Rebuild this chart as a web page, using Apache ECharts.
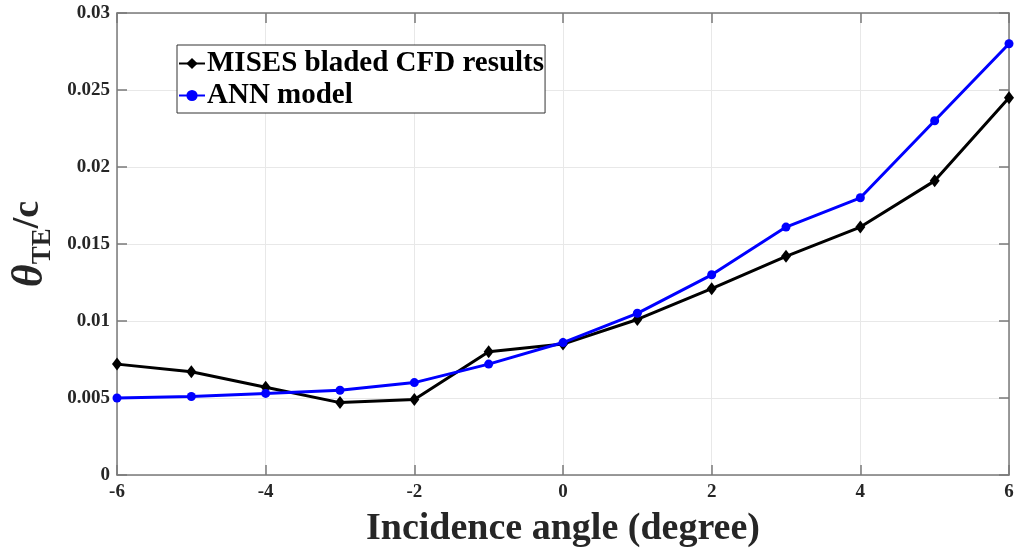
<!DOCTYPE html>
<html><head><meta charset="utf-8">
<script src="https://cdn.jsdelivr.net/npm/echarts@6/dist/echarts.min.js"></script>
<style>html,body{margin:0;padding:0;background:#fff}#c{width:1018px;height:552px}</style>
</head><body><div id="c"></div>
<script>
var angles = [-6,-5,-4,-3,-2,-1,0,1,2,3,4,5,6];
var misesValues = [0.0072,0.0067,0.0057,0.0047,0.0049,0.0080,0.0085,0.0101,0.0121,0.0142,0.0161,0.0191,0.0245];
var annValues = [0.0050,0.0051,0.0053,0.0055,0.0060,0.0072,0.0086,0.0105,0.0130,0.0161,0.0180,0.0230,0.0280];
var yTickLabels = ['0','0.005','0.01','0.015','0.02','0.025','0.03'];
var seriesNames = ['MISES bladed CFD results','ANN model'];

var FONT = "'Liberation Serif','Times New Roman',serif";
function pairs(v){ return angles.map(function(a,i){return [a,v[i]];}); }
var axisCol = '#7a7a7a';
var chart = echarts.init(document.getElementById('c'));
chart.setOption({
  animation:false,
  backgroundColor:'#fff',
  grid:{left:117,right:9,top:13,bottom:77,containLabel:false,outerBoundsMode:'none'},
  legend:{
    left:177, top:45, orient:'vertical', itemGap:3, itemWidth:26, itemHeight:14,
    padding:[4,1,3,1], backgroundColor:'#fff', borderColor:'#333', borderWidth:1,
    textStyle:{fontFamily:FONT,fontWeight:'bold',fontSize:29,color:'#000',padding:[0,0,0,-3]},
    data:seriesNames
  },
  xAxis:[{
    type:'value', min:-6, max:6, interval:2,
    name:'Incidence angle (degree)', nameLocation:'middle', nameGap:35,
    nameTextStyle:{fontFamily:FONT,fontWeight:'bold',fontSize:38,color:'#262626'},
    axisLine:{onZero:false,lineStyle:{color:axisCol,width:1.5}},
    axisTick:{inside:true,length:10,lineStyle:{color:axisCol,width:1.5}},
    axisLabel:{fontFamily:FONT,fontWeight:'bold',fontSize:19,color:'#262626',margin:8},
    splitLine:{lineStyle:{color:'#e8e8e8',width:1}}
  },{
    type:'value', position:'top', min:-6, max:6, interval:2,
    axisLine:{onZero:false,lineStyle:{color:axisCol,width:1.5}},
    axisTick:{inside:true,length:10,lineStyle:{color:axisCol,width:1.5}},
    axisLabel:{show:false}, splitLine:{show:false}
  }],
  yAxis:[{
    type:'value', min:0, max:0.03, interval:0.005,
    axisLine:{onZero:false,lineStyle:{color:axisCol,width:1.5}},
    axisTick:{inside:true,length:10,lineStyle:{color:axisCol,width:1.5}},
    axisLabel:{fontFamily:FONT,fontWeight:'bold',fontSize:19,color:'#262626',margin:7,
      formatter:function(v){ var i=Math.round(v/0.005); return yTickLabels[i]; }},
    splitLine:{lineStyle:{color:'#e8e8e8',width:1}},
    name:'{th|θ}{sub|TE}{sl|/c}', nameLocation:'middle', nameGap:60, nameRotate:90,
    nameTextStyle:{
      rich:{
        th:{fontFamily:FONT,fontStyle:'italic',fontWeight:'bold',fontSize:44,color:'#262626',verticalAlign:'middle'},
        sub:{fontFamily:FONT,fontWeight:'bold',fontSize:27,color:'#262626',padding:[24,0,0,0],verticalAlign:'middle'},
        sl:{fontFamily:FONT,fontWeight:'bold',fontSize:38,color:'#262626',padding:[0,0,6,0],verticalAlign:'middle'}
      }
    }
  },{
    type:'value', position:'right', min:0, max:0.03, interval:0.005,
    axisLine:{onZero:false,lineStyle:{color:axisCol,width:1.5}},
    axisTick:{inside:true,length:10,lineStyle:{color:axisCol,width:1.5}},
    axisLabel:{show:false}, splitLine:{show:false}
  }],
  series:[{
    name:seriesNames[0], type:'line', data:pairs(misesValues),
    symbol:'diamond', symbolSize:[10,13], showAllSymbol:true,
    lineStyle:{color:'#000',width:3}, itemStyle:{color:'#000'}, z:3
  },{
    name:seriesNames[1], type:'line', data:pairs(annValues),
    symbol:'circle', symbolSize:9,
    lineStyle:{color:'#0000ff',width:3}, itemStyle:{color:'#0000ff'}, z:4
  }]
});
</script></body></html>
